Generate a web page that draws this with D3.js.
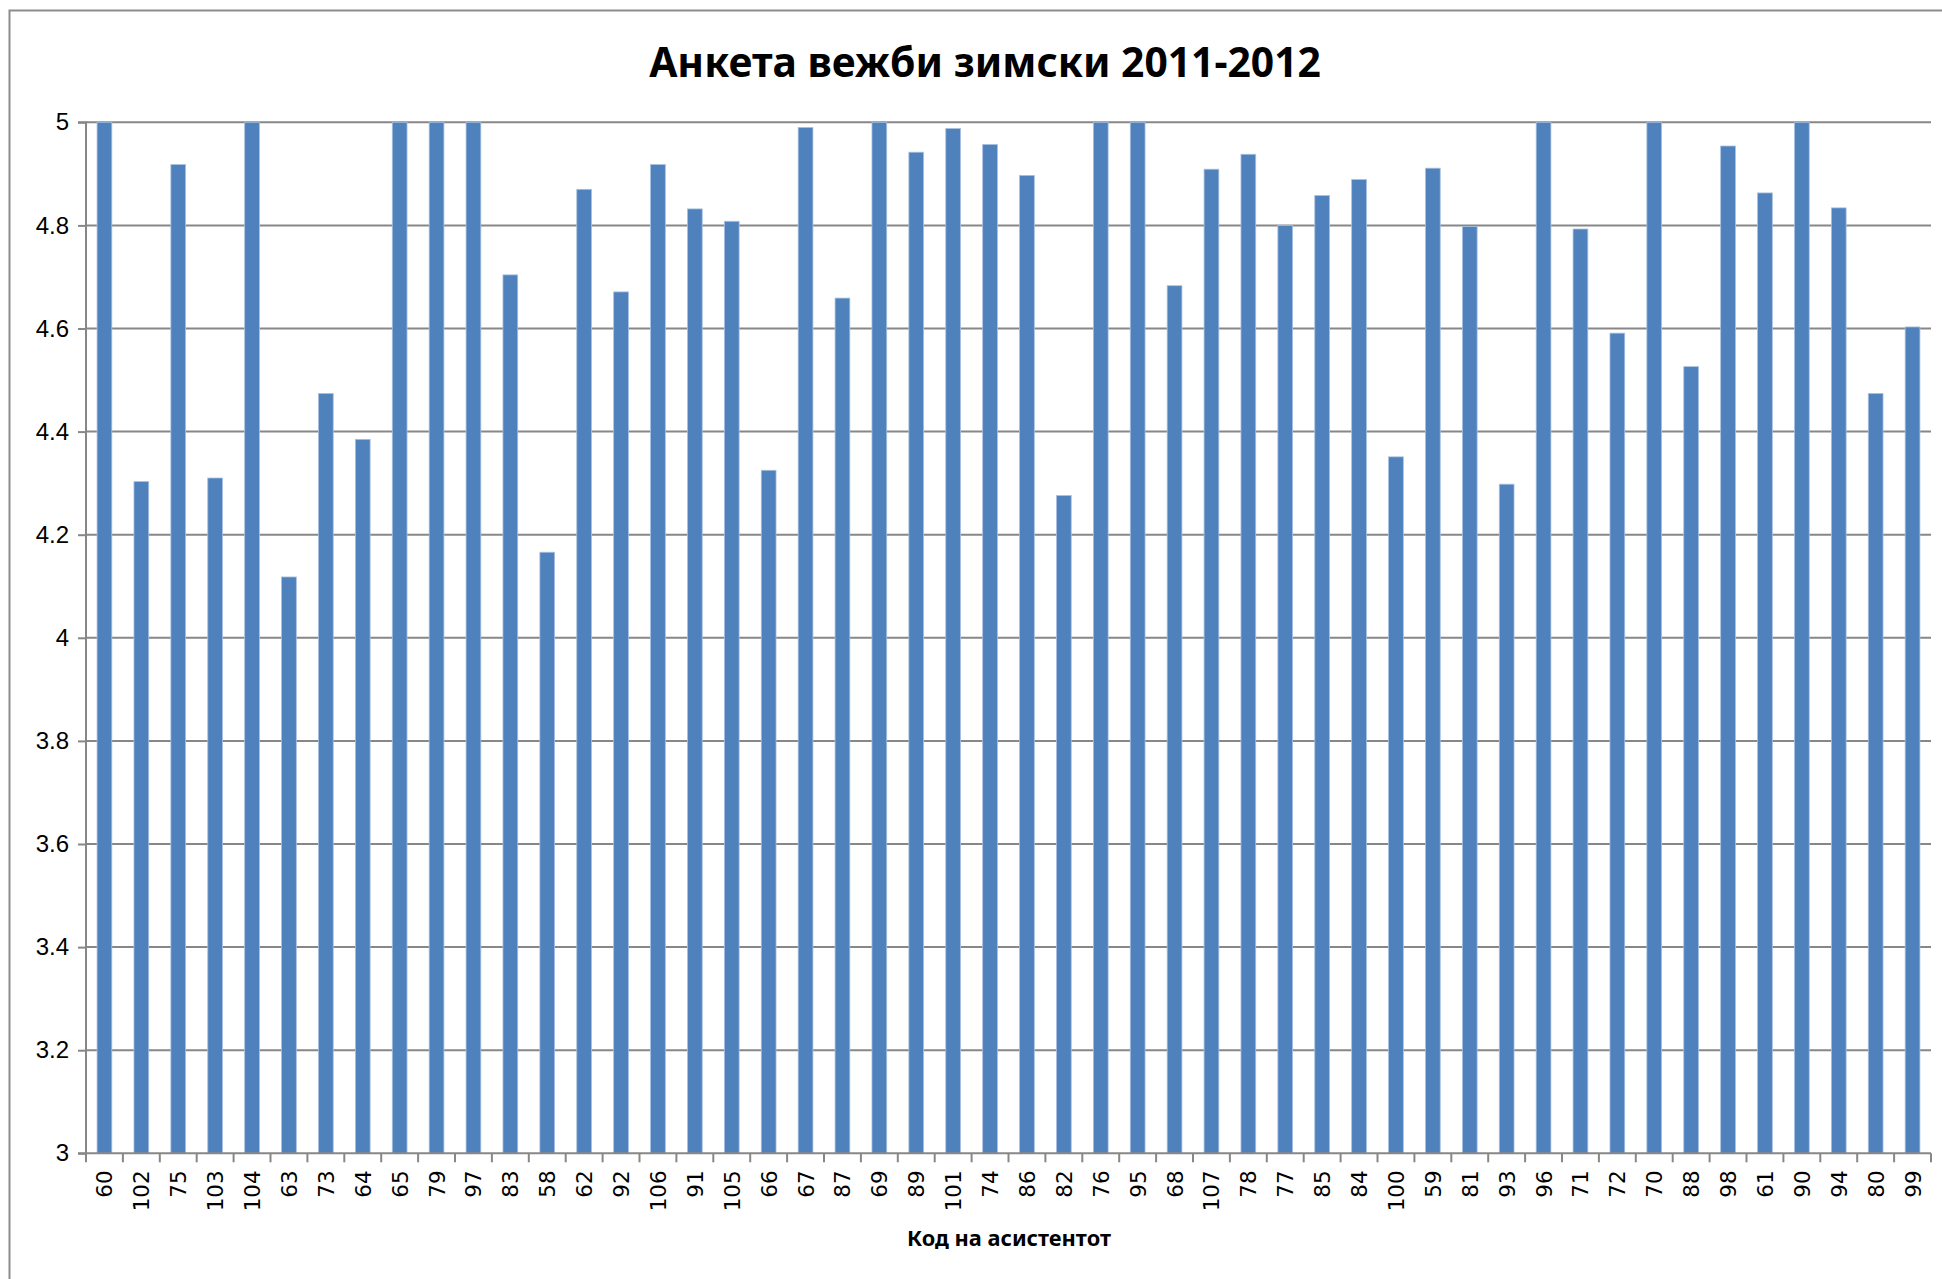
<!DOCTYPE html>
<html><head><meta charset="utf-8">
<script src="https://cdn.jsdelivr.net/npm/d3@7"></script>
<style>body{margin:0;background:#fff}svg{display:block}</style>
</head><body>
<script>
const codes = ["60","102","75","103","104","63","73","64","65","79","97","83","58","62","92","106","91","105","66","67","87","69","89","101","74","86","82","76","95","68","107","78","77","85","84","100","59","81","93","96","71","72","70","88","98","61","90","94","80","99"];
const values = [5,4.303,4.918,4.31,5,4.118,4.474,4.385,5,5,5,4.704,4.166,4.87,4.671,4.918,4.832,4.808,4.325,4.99,4.659,5,4.942,4.988,4.957,4.897,4.276,5,5,4.683,4.909,4.938,4.8,4.858,4.889,4.351,4.911,4.798,4.298,5,4.793,4.591,5,4.526,4.954,4.863,5,4.834,4.474,4.603];
const yTicks = [3,3.2,3.4,3.6,3.8,4,4.2,4.4,4.6,4.8,5];
const titleText = "Анкета вежби зимски 2011-2012";
const xTitleText = "Код на асистентот";

(function(){
const W = 1942, H = 1279;
const svg = d3.select("body").append("svg").attr("width", W).attr("height", H);
svg.append("rect").attr("x",9.5).attr("y",10.5).attr("width",W).attr("height",H).attr("fill","#fff").attr("stroke","#8c8c8c").attr("stroke-width",2);

const pLeft = 86, pRight = 1931, pTop = 122.3, pBottom = 1153.3;
const x = d3.scaleBand().domain(codes).range([pLeft, pRight]).paddingInner(0.6).paddingOuter(0.3);
const y = d3.scaleLinear().domain([3,5]).range([pBottom, pTop]);
const grid = "#878787";

svg.append("g").selectAll("line").data(yTicks.filter(t=>t>3)).join("line")
  .attr("x1", pLeft).attr("x2", pRight).attr("y1", d=>y(d)).attr("y2", d=>y(d))
  .attr("stroke", grid).attr("stroke-width", 2);

svg.append("g").selectAll("rect").data(codes).join("rect")
  .attr("x", d=>x(d)).attr("width", x.bandwidth())
  .attr("y", (d,i)=>y(values[i])).attr("height", (d,i)=>y(3)-y(values[i]))
  .attr("fill", "#4f81bd").attr("stroke","#a9c1e0").attr("stroke-width",0.8);

const yAxis = d3.axisLeft(y).tickValues(yTicks).tickSize(8).tickPadding(9).tickFormat(d3.format("~g"));
const gy = svg.append("g").attr("transform",`translate(${pLeft},0)`).call(yAxis);
gy.select(".domain").attr("stroke", grid).attr("stroke-width",2).attr("d",`M-8,${pTop}H0V${pBottom}H-8`);
gy.selectAll(".tick line").attr("stroke", grid).attr("stroke-width",2);
gy.selectAll(".tick text").attr("font-family","Liberation Sans, Arial, sans-serif").attr("font-size",24).attr("fill","#000");

const step = x.step();
const bounds = codes.map(c => x(c) - step*0.3).concat([pRight]);
const gx = svg.append("g");
gx.append("line").attr("x1",pLeft).attr("x2",pRight).attr("y1",pBottom).attr("y2",pBottom).attr("stroke",grid).attr("stroke-width",2);
gx.selectAll("line.t").data(bounds).join("line").attr("class","t")
  .attr("x1",d=>d).attr("x2",d=>d).attr("y1",pBottom).attr("y2",pBottom+9).attr("stroke",grid).attr("stroke-width",2);
gx.selectAll("text").data(codes).join("text")
  .attr("transform", d=>`translate(${x(d)+x.bandwidth()/2+8},${pBottom+17}) rotate(-90)`)
  .attr("text-anchor","end")
  .attr("font-family","DejaVu Sans, sans-serif").attr("font-size",21.5).attr("fill","#000")
  .text(d=>d);

const t = svg.append("text").attr("x",985).attr("y",77).attr("text-anchor","middle")
  .attr("font-family","Noto Sans, sans-serif").attr("font-weight","bold").attr("font-size",44).text(titleText);
const tw = t.node().getComputedTextLength();
t.attr("font-size", 44*672/tw);

const xt = svg.append("text").attr("x",1009).attr("y",1246).attr("text-anchor","middle")
  .attr("font-family","Noto Sans, sans-serif").attr("font-weight","bold").attr("font-size",22).text(xTitleText);
const xw = xt.node().getComputedTextLength();
xt.attr("font-size", 22*204/xw);
})();
</script>
</body></html>
